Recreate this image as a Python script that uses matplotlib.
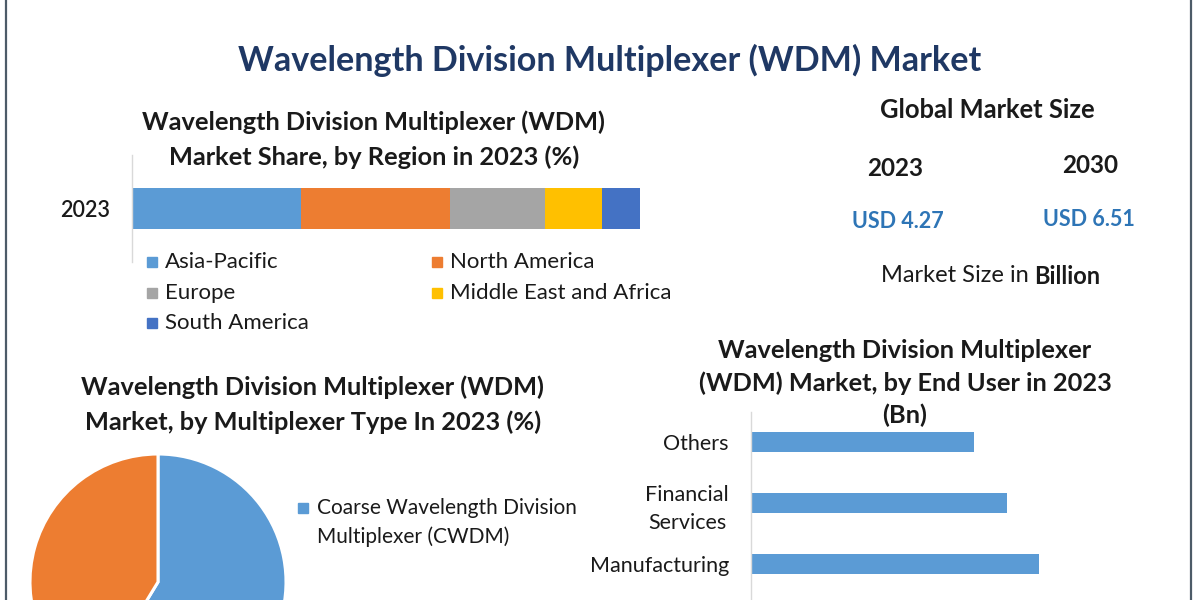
import matplotlib
matplotlib.use("Agg")
import matplotlib.pyplot as plt
from matplotlib.lines import Line2D
from matplotlib.patches import Rectangle

plt.rcParams['font.family'] = ['Lato', 'DejaVu Sans']

# ---------------- data ----------------
regions = ["Asia-Pacific", "North America", "Europe", "Middle East and Africa", "South America"]
region_share = [33.3, 29.2, 18.8, 11.2, 7.5]
region_colors = ["#5b9bd5", "#ed7d31", "#a5a5a5", "#ffc000", "#4472c4"]
region_year = "2023"

mux_types = ["Coarse Wavelength Division Multiplexer (CWDM)", "Dense Wavelength Division Multiplexer (DWDM)"]
mux_share = [58.7, 41.3]
mux_colors = ["#5b9bd5", "#ed7d31"]

end_users = ["Others", "Financial\nServices", "Manufacturing"]
end_user_values = [0.62, 0.71, 0.80]

years = ["2023", "2030"]
market_size = ["USD 4.27", "USD 6.51"]

W, H = 1200, 600
fig = plt.figure(figsize=(12, 6), dpi=100)
fig.patch.set_facecolor("white")


def fx(x):
    return x / W


def fy(y):
    return 1 - y / H


def add_ax(x0, y0, x1, y1):
    # pixel box (top-left origin)
    return fig.add_axes([fx(x0), fy(y1), fx(x1 - x0), (y1 - y0) / H])


def ptext(x, y, s, **kw):
    kw.setdefault("ha", "center")
    kw.setdefault("va", "center")
    return fig.text(fx(x), fy(y), s, **kw)


TXT = "#1a1a1a"
TS = 18.3  # sub-title size

# ---------------- frame lines ----------------
fig.add_artist(Line2D([fx(5.5), fx(5.5)], [0, 1], color="#4d5b68", lw=1.6))
fig.add_artist(Line2D([fx(1190.5), fx(1190.5)], [0, 1], color="#4d5b68", lw=1.6))

# ---------------- main title ----------------
ptext(610, 60, "Wavelength Division Multiplexer (WDM) Market", fontsize=24.6,
      fontweight="bold", color="#1f3864")

# ---------------- stacked bar by region ----------------
ptext(374, 122, "Wavelength Division Multiplexer (WDM)", fontsize=TS, fontweight="bold", color=TXT)
ptext(374, 157, "Market Share, by Region in 2023 (%)", fontsize=TS, fontweight="bold", color=TXT)

ax1 = add_ax(132, 155, 640, 262)
left = 0
for name, val, col in zip(regions, region_share, region_colors):
    ax1.barh([0], [val], left=left, height=0.39, color=col, label=name)
    left += val
ax1.set_xlim(0, sum(region_share))
ax1.set_ylim(-0.5, 0.5)
ax1.set_yticks([0])
ax1.set_yticklabels([region_year], fontsize=15.5, color=TXT, fontweight="semibold")
ax1.tick_params(axis="y", length=0, pad=16)
ax1.set_xticks([])
for s in ["top", "right", "bottom"]:
    ax1.spines[s].set_visible(False)
ax1.spines["left"].set_color("#d9d9d9")
ax1.spines["left"].set_linewidth(1)
ax1.patch.set_alpha(0)

# legend (manual placement in two columns)
leg_pos = [(152, 262), (437, 262), (152, 293), (437, 293), (152, 323)]
for (x, y), name, col in zip(leg_pos, regions, region_colors):
    fig.add_artist(Rectangle((fx(x - 5), fy(y + 5)), 10 / W, 10 / H, color=col,
                             transform=fig.transFigure))
    ptext(x + 13, y, name, ha="left", fontsize=16, color=TXT)

# ---------------- global market size ----------------
ptext(987, 110, "Global Market Size", fontsize=18.4, fontweight="bold", color=TXT)
ptext(895, 168, years[0], fontsize=17.5, fontweight="bold", color=TXT)
ptext(1090, 166, years[1], fontsize=17.5, fontweight="bold", color=TXT)
ptext(898, 222, market_size[0], fontsize=15.5, fontweight="bold", color="#2e75b6")
ptext(1089, 219, market_size[1], fontsize=15.5, fontweight="bold", color="#2e75b6")
ptext(1029, 276, "Market Size in", ha="right", fontsize=17, color=TXT)
ptext(1034, 276, "Billion", ha="left", fontsize=17, fontweight="bold", color=TXT)

# ---------------- pie by multiplexer type ----------------
ptext(313, 387, "Wavelength Division Multiplexer (WDM)", fontsize=TS, fontweight="bold", color=TXT)
ptext(313, 422, "Market, by Multiplexer Type In 2023 (%)", fontsize=TS, fontweight="bold", color=TXT)

R = 128
cx, cy = 158, 582
ax2 = add_ax(cx - R, cy - R, cx + R, cy + R)
ax2.pie(mux_share, colors=mux_colors, startangle=90, counterclock=False,
        wedgeprops=dict(edgecolor="white", linewidth=2.2), radius=1.0)
ax2.set_xlim(-1.0, 1.0)
ax2.set_ylim(-1.0, 1.0)
ax2.set_aspect("equal")
ax2.axis("off")

fig.add_artist(Rectangle((fx(298), fy(513)), 10 / W, 10 / H, color=mux_colors[0],
                         transform=fig.transFigure))
ptext(317, 508, "Coarse Wavelength Division", ha="left", fontsize=15, color=TXT)
ptext(317, 537, "Multiplexer (CWDM)", ha="left", fontsize=15, color=TXT)

# ---------------- end user bars ----------------
ptext(905, 350, "Wavelength Division Multiplexer", fontsize=TS, fontweight="bold", color=TXT)
ptext(905, 383, "(WDM) Market, by End User in 2023", fontsize=TS, fontweight="bold", color=TXT)
ptext(905, 415, "(Bn)", fontsize=TS, fontweight="bold", color=TXT)

# category centres at y = 442, 503, 564 px (spacing 61)
ax3 = add_ax(751, 411.5, 751 + 360, 411.5 + 61 * 4)
ypos = list(range(len(end_users)))
ax3.barh(ypos, end_user_values, height=0.33, color="#5b9bd5")
ax3.set_ylim(len(end_users) + 0.5, -0.5)
ax3.set_xlim(0, 1.0)
ax3.set_yticks(ypos)
ax3.set_yticklabels(end_users, fontsize=15.5, color=TXT, multialignment="center",
                    linespacing=1.5)
ax3.tick_params(axis="y", length=0, pad=16)
ax3.set_xticks([])
for s in ["top", "right", "bottom"]:
    ax3.spines[s].set_visible(False)
ax3.spines["left"].set_color("#d9d9d9")
ax3.spines["left"].set_linewidth(1)
ax3.patch.set_alpha(0)

fig.savefig("out.png", dpi=100, facecolor="white")
